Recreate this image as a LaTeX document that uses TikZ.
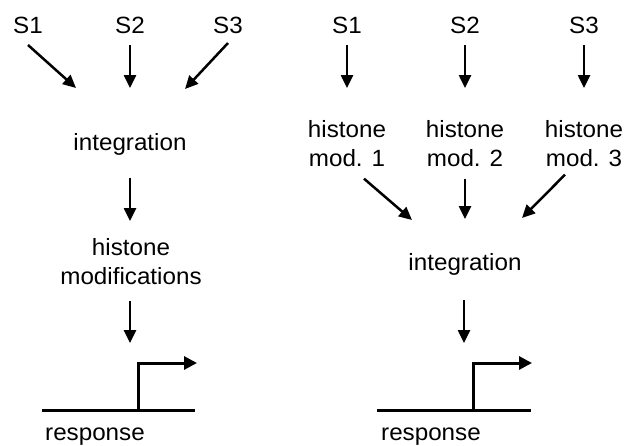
\documentclass[tikz,border=0pt]{standalone}
\usepackage{fontspec}
\setmainfont[FakeStretch=1.03]{Liberation Sans}
\usetikzlibrary{arrows.meta}

\begin{document}
\begin{tikzpicture}[x=1pt,y=-1pt,
 txt/.style={inner sep=0pt,anchor=base,align=center,font=\fontsize{23.5}{29}\selectfont},
 arr/.style={line width=2.5pt,-{Triangle[length=13pt,width=12pt]}},
 gene/.style={line width=3pt}]
 \useasboundingbox (0,0) rectangle (627,445); %全体

 % 左
 \node[txt] (ls1) at (28,33) {S1}; %シグナル1
 \node[txt] (ls2) at (130,33) {S2}; %シグナル2
 \node[txt] (ls3) at (228,33) {S3}; %シグナル3
 \node[txt] (lint) at (130,150) {integration}; %統合
 \node[txt,anchor=north] (lhis) at (131,238) {histone\\modifications}; %修飾
 \coordinate (lgo) at (138,363); %プロモーター角
 \node[txt,anchor=base west] (lresp) at (45,440) {response}; %応答
 \draw[arr] ([yshift=-12pt]ls1.base) -- ([xshift=-54pt,yshift=62pt]lint.base);
 \draw[arr] ([yshift=-12pt]ls2.base) -- ([yshift=62pt]lint.base);
 \draw[arr] ([yshift=-10pt]ls3.base) -- ([xshift=55pt,yshift=61pt]lint.base);
 \draw[arr] ([yshift=-28pt]lint.base) -- ([xshift=-1pt,yshift=17pt]lhis.north);
 \draw[arr] ([xshift=-1pt,yshift=-16pt]lhis.south) -- ([xshift=-8pt,yshift=20pt]lgo);
 \draw[gene] (42,410) -- (195,410); %遺伝子
 \draw[gene,-{Triangle[length=13pt,width=13pt]}] (lgo |- 0,410) -- (lgo) -- (197,363);

 % 右
 \node[txt] (rs1) at (347,33) {S1};
 \node[txt] (rs2) at (465,33) {S2};
 \node[txt] (rs3) at (584,33) {S3};
 \node[txt,anchor=north] (rh1) at (347,120) {histone\\mod. 1};
 \node[txt,anchor=north] (rh2) at (465,120) {histone\\mod. 2};
 \node[txt,anchor=north] (rh3) at (584,120) {histone\\mod. 3};
 \node[txt] (rint) at (465,270) {integration};
 \coordinate (rgo) at (473,363);
 \node[txt,anchor=base west] (rresp) at (381,440) {response};
 \draw[arr] ([yshift=-12pt]rs1.base) -- ([yshift=32pt]rh1.north);
 \draw[arr] ([yshift=-12pt]rs2.base) -- ([yshift=32pt]rh2.north);
 \draw[arr] ([yshift=-12pt]rs3.base) -- ([yshift=32pt]rh3.north);
 \draw[arr] ([xshift=17pt,yshift=-12pt]rh1.south) -- ([xshift=-53pt,yshift=50pt]rint.base);
 \draw[arr] ([yshift=-12pt]rh2.south) -- ([yshift=51pt]rint.base);
 \draw[arr] ([xshift=-19pt,yshift=-8pt]rh3.south) -- ([xshift=57pt,yshift=52pt]rint.base);
 \draw[arr] ([xshift=-1pt,yshift=-30pt]rint.base) -- ([xshift=-9pt,yshift=20pt]rgo);
 \draw[gene] (377,410) -- (531,410);
 \draw[gene,-{Triangle[length=13pt,width=13pt]}] (rgo |- 0,410) -- (rgo) -- (532,363);
\end{tikzpicture}
\end{document}
